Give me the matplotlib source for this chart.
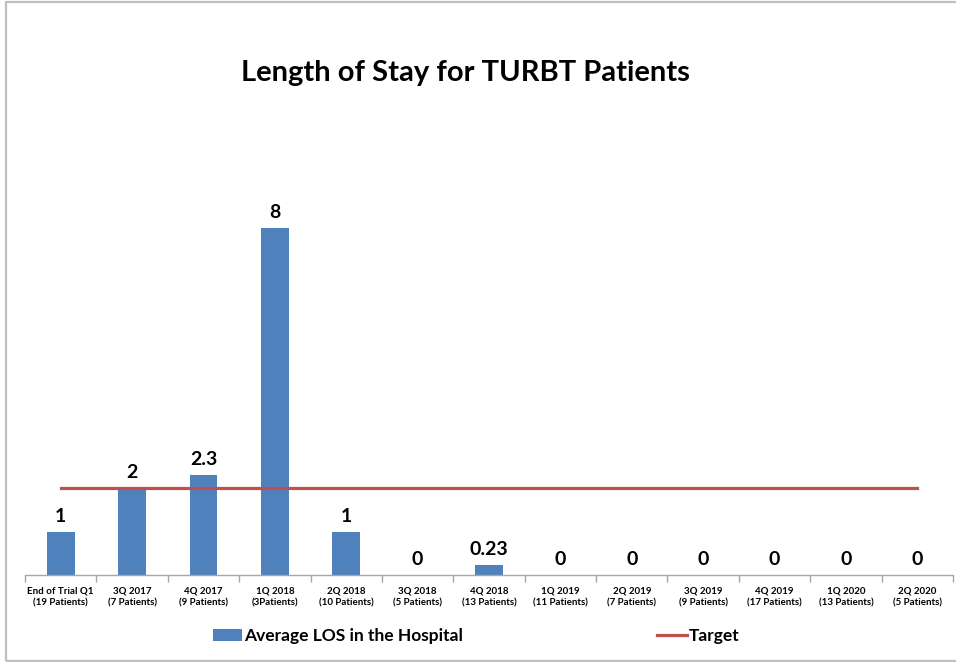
import matplotlib
matplotlib.use("Agg")
import matplotlib.pyplot as plt
from matplotlib.patches import Rectangle, Patch
from matplotlib.lines import Line2D
import numpy as np

categories = ["End of Trial Q1\n(19 Patients)", "3Q 2017\n(7 Patients)", "4Q 2017\n(9 Patients)",
              "1Q 2018\n(3Patients)", "2Q 2018\n(10 Patients)", "3Q 2018\n(5 Patients)",
              "4Q 2018\n(13 Patients)", "1Q 2019\n(11 Patients)", "2Q 2019\n(7 Patients)",
              "3Q 2019\n(9 Patients)", "4Q 2019\n(17 Patients)", "1Q 2020\n(13 Patients)",
              "2Q 2020\n(5 Patients)"]
avg_los = [1, 2, 2.3, 8, 1, 0, 0.23, 0, 0, 0, 0, 0, 0]
value_labels = ["1", "2", "2.3", "8", "1", "0", "0.23", "0", "0", "0", "0", "0", "0"]
target = [2] * 13

plt.rcParams['font.family'] = ['Lato', 'DejaVu Sans']

W, H = 956, 662
fig = plt.figure(figsize=(W / 100, H / 100), dpi=100)
fig.patch.set_facecolor("white")

# outer border
fig.add_artist(Rectangle((5.5 / W, 1.5 / H), (W + 10) / W, 659 / H, transform=fig.transFigure,
                         fill=False, edgecolor="#BFBFBF", linewidth=1.6))

ax_l, ax_r, ax_b = 25, 953, 575
ax_top = 141
ax = fig.add_axes([ax_l / W, (H - ax_b) / H, (ax_r - ax_l) / W, (ax_b - ax_top) / H])

x = np.arange(len(categories))
ax.bar(x, avg_los, width=0.39, color="#4F81BD", zorder=2)
ax.plot(x, target, color="#C0504D", linewidth=2.3, zorder=3)

for xi, v, lab in zip(x, avg_los, value_labels):
    ax.annotate(lab, (xi, v), xytext=(0, 5), textcoords="offset points",
                ha="center", va="bottom", fontsize=14, fontweight="bold", color="black")

ax.set_xlim(-0.5, len(categories) - 0.5)
ax.set_ylim(0, 10)
ax.set_yticks([])
for s in ["left", "right", "top"]:
    ax.spines[s].set_visible(False)
ax.spines["bottom"].set_color("#A6A6A6")
ax.spines["bottom"].set_linewidth(1.0)

ax.set_xticks(x)
ax.set_xticklabels(categories, fontsize=7, fontweight="bold", linespacing=1.5)
ax.tick_params(axis="x", length=0, pad=8)
ax.set_xticks(np.arange(-0.5, len(categories)), minor=True)
ax.tick_params(axis="x", which="minor", length=5, color="#A6A6A6", width=1.0)

fig.text(465 / W, 1 - 73 / H, "Length of Stay for TURBT Patients", ha="center", va="center",
         fontsize=21, fontweight="bold")

handles = [Patch(facecolor="#4F81BD"), Line2D([0], [0], color="#C0504D", linewidth=2.3)]
fig.legend(handles, ["Average LOS in the Hospital", "Target"], loc="center",
           bbox_to_anchor=(476 / W, 1 - 636 / H), ncol=2, frameon=False,
           prop={"size": 12.5, "weight": "bold"}, handlelength=1.7, handletextpad=0.1,
           columnspacing=11.2, handleheight=0.7)

fig.savefig("out.png", dpi=100)
